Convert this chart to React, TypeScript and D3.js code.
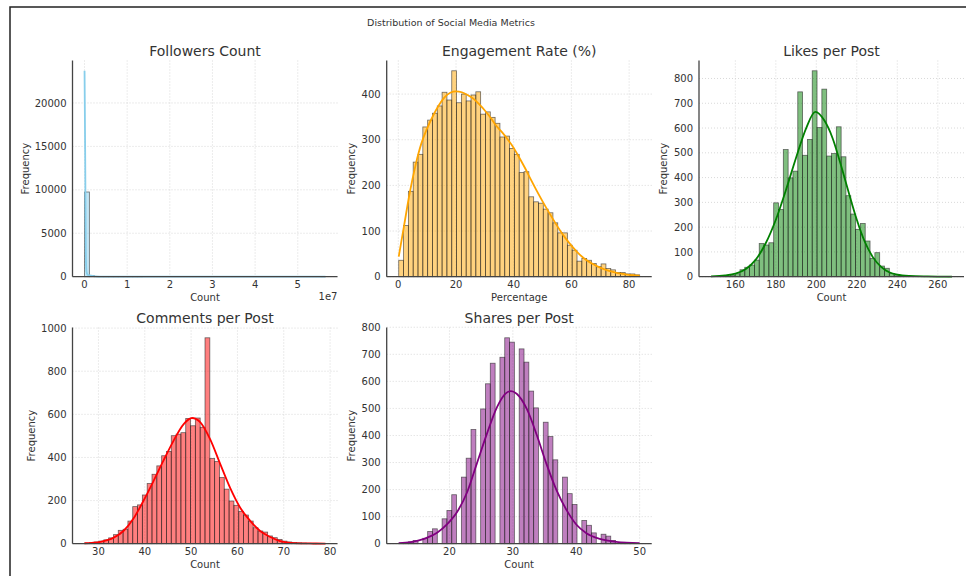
import * as d3 from "d3";

// ---- data ----
const followersRange: [number, number] = [0, 5.65e7];
const followersCounts = [
  9750, 150, 40, 15, 8, 5, 3, 2, 2, 1, 1, 1, 0, 0, 0, 0, 0, 0, 0, 0, 0, 0, 0, 0, 0,
  0, 0, 0, 0, 0, 0, 0, 0, 0, 0, 0, 0, 0, 0, 0, 0, 0, 0, 0, 0, 0, 0, 0, 0, 1,
];
const followersKde: [number, number][] = [
  [0, 23700], [1.5e5, 14000], [3e5, 3000], [4.5e5, 600], [7e5, 250], [1e6, 180],
  [1.5e6, 110], [2.5e6, 45], [4e6, 15], [8e6, 4], [1.5e7, 1], [3e7, 0.5], [5.65e7, 0],
];

const engagementRange: [number, number] = [0.15, 83.65];
const engagementCounts = [
  36, 112, 187, 251, 268, 328, 343, 358, 374, 404, 387, 451, 381, 400, 385, 398, 405,
  356, 361, 349, 336, 306, 308, 281, 268, 228, 230, 175, 164, 161, 148, 140, 118, 96,
  96, 69, 58, 34, 40, 36, 29, 22, 28, 18, 15, 9, 9, 6, 6, 4,
];
const engagementKde: [number, number][] = [
  [0.15, 44], [2, 112], [4, 185], [6, 245], [8, 292], [10, 325], [12, 352], [14, 375],
  [16, 393], [18, 403], [20, 406], [22, 404], [24, 398], [26, 390], [28, 378], [30, 364],
  [32, 348], [34, 330], [36, 316], [38, 300], [40, 282], [42, 260], [44, 237], [46, 212],
  [48, 188], [50, 165], [52, 143], [54, 122], [56, 102], [58, 84], [60, 68], [62, 54],
  [64, 42], [66, 33], [68, 26], [70, 20], [72, 15], [74, 11], [76, 8], [78, 6], [80, 4],
  [82, 3], [83.65, 2],
];

const likesRange: [number, number] = [148, 267];
const likesCounts = [
  1, 1, 2, 3, 6, 12, 28, 38, 47, 67, 134, 128, 137, 298, 271, 513, 399, 426, 746, 490,
  554, 831, 602, 757, 487, 497, 605, 484, 327, 253, 191, 215, 144, 74, 97, 43, 34, 13, 7,
  4, 2, 1, 1, 0, 0, 0, 0, 0, 0, 1,
];
const likesKde: [number, number][] = [
  [148, 1], [155, 5], [160, 12], [165, 30], [170, 68], [175, 135], [180, 230], [185, 350],
  [190, 480], [195, 600], [199.5, 665], [204, 630], [208, 560], [212, 455], [216, 340],
  [220, 230], [224, 140], [228, 78], [232, 40], [236, 18], [240, 8], [246, 3], [255, 1],
  [267, 0],
];

const commentsRange: [number, number] = [27, 79];
const commentsCounts = [
  3, 5, 8, 12, 18, 27, 42, 62, 67, 105, 172, 180, 226, 279, 322, 361, 408, 428, 501, 508,
  515, 581, 547, 583, 540, 955, 395, 381, 307, 253, 198, 178, 149, 133, 105, 74, 59, 54,
  36, 28, 20, 12, 8, 6, 4, 3, 2, 1, 1, 1,
];
const commentsKde: [number, number][] = [
  [27, 2], [30.4, 9], [33.3, 28], [35.4, 59], [37.6, 118], [39.7, 198], [41.9, 291],
  [44, 384], [46.2, 477], [48.4, 555], [50.2, 583], [52, 563], [54.1, 485], [56.3, 369],
  [58.4, 260], [60.6, 167], [62.8, 105], [64.9, 59], [67.1, 31], [69.2, 12], [72.1, 3],
  [76.4, 1], [79, 0.5],
];

const sharesRange: [number, number] = [12, 50];
const sharesCounts = [
  2, 4, 7, 12, 0, 20, 45, 55, 0, 92, 123, 181, 0, 246, 316, 422, 0, 498, 591, 667, 0,
  689, 761, 745, 0, 720, 671, 564, 502, 0, 449, 396, 310, 0, 246, 185, 145, 0, 86, 68,
  40, 0, 35, 28, 12, 0, 5, 3, 2, 1,
];
const sharesKde: [number, number][] = [
  [12, 2], [13.9, 6], [16, 18], [18.1, 41], [19.6, 71], [21.2, 117], [22.8, 191],
  [24.3, 295], [25.9, 406], [27.5, 505], [28.8, 554], [29.7, 564], [30.6, 554], [32.2, 498],
  [33.8, 400], [35.3, 295], [36.9, 197], [38.5, 123], [40, 71], [41.6, 39], [43.7, 18],
  [46.3, 7], [50, 2],
];

const followersXTicks = [0, 1e7, 2e7, 3e7, 4e7, 5e7];
const followersYTicks = [0, 5000, 10000, 15000, 20000];
const engagementXTicks = [0, 20, 40, 60, 80];
const engagementYTicks = [0, 100, 200, 300, 400];
const likesXTicks = [160, 180, 200, 220, 240, 260];
const likesYTicks = [0, 100, 200, 300, 400, 500, 600, 700, 800];
const commentsXTicks = [30, 40, 50, 60, 70, 80];
const commentsYTicks = [0, 200, 400, 600, 800, 1000];
const sharesXTicks = [20, 30, 40, 50];
const sharesYTicks = [0, 100, 200, 300, 400, 500, 600, 700, 800];

// ---- layout ----
const W = 966;
const H = 576;
const COLS = [72.5, 386.7, 699];
const ROWS = [60.5, 327.5];
const PW = 265;
const PH = 216.2;
const FONT = "DejaVu Sans, sans-serif";
const TXT = "#333";

type Panel = {
  title: string;
  xLabel: string;
  counts: number[];
  range: [number, number];
  kde: [number, number][];
  color: string;
  xTicks: number[];
  yTicks: number[];
  xFmt?: (v: number) => string;
  offset?: string;
  col: number;
  row: number;
};

const panels: Panel[] = [
  { title: "Followers Count", xLabel: "Count", counts: followersCounts, range: followersRange, kde: followersKde, color: "#87CEEB", xTicks: followersXTicks, yTicks: followersYTicks, xFmt: (v) => String(v / 1e7), offset: "1e7", col: 0, row: 0 },
  { title: "Engagement Rate (%)", xLabel: "Percentage", counts: engagementCounts, range: engagementRange, kde: engagementKde, color: "#FFA500", xTicks: engagementXTicks, yTicks: engagementYTicks, col: 1, row: 0 },
  { title: "Likes per Post", xLabel: "Count", counts: likesCounts, range: likesRange, kde: likesKde, color: "#008000", xTicks: likesXTicks, yTicks: likesYTicks, col: 2, row: 0 },
  { title: "Comments per Post", xLabel: "Count", counts: commentsCounts, range: commentsRange, kde: commentsKde, color: "#FF0000", xTicks: commentsXTicks, yTicks: commentsYTicks, col: 0, row: 1 },
  { title: "Shares per Post", xLabel: "Count", counts: sharesCounts, range: sharesRange, kde: sharesKde, color: "#800080", xTicks: sharesXTicks, yTicks: sharesYTicks, col: 1, row: 1 },
];

function Hist({ p }: { p: Panel }) {
  const left = COLS[p.col];
  const top = ROWS[p.row];
  const [lo, hi] = p.range;
  const span = hi - lo;
  const x = d3.scaleLinear().domain([lo - span * 0.05, hi + span * 0.05]).range([0, PW]);
  const yMax = Math.max(d3.max(p.counts) ?? 0, d3.max(p.kde, (d) => d[1]) ?? 0) * 1.05;
  const y = d3.scaleLinear().domain([0, yMax]).range([PH, 0]);
  const bw = span / p.counts.length;
  const line = d3
    .line<[number, number]>()
    .x((d) => x(d[0]))
    .y((d) => y(d[1]))
    .curve(d3.curveMonotoneX);
  const fmt = p.xFmt ?? ((v: number) => String(v));
  const maxLen = d3.max(p.yTicks, (t) => String(t).length) ?? 3;

  return (
    <g transform={`translate(${left},${top})`}>
      {/* grid */}
      {p.xTicks.map((t) => (
        <line key={"gx" + t} x1={x(t)} x2={x(t)} y1={0} y2={PH} stroke="#cfcfcf" strokeWidth={0.8} strokeDasharray="1,2" />
      ))}
      {p.yTicks.map((t) => (
        <line key={"gy" + t} x1={0} x2={PW} y1={y(t)} y2={y(t)} stroke="#cfcfcf" strokeWidth={0.8} strokeDasharray="1,2" />
      ))}
      {/* bars */}
      {p.counts.map((c, i) =>
        c > 0 ? (
          <rect
            key={i}
            x={x(lo + i * bw)}
            y={y(c)}
            width={x(lo + (i + 1) * bw) - x(lo + i * bw)}
            height={PH - y(c)}
            fill={p.color}
            fillOpacity={0.5}
            stroke="#222"
            strokeOpacity={0.65}
            strokeWidth={0.8}
          />
        ) : null
      )}
      {/* kde */}
      <path d={line(p.kde) ?? ""} fill="none" stroke={p.color} strokeWidth={1.8} />
      {/* spines */}
      <line x1={0} x2={0} y1={0} y2={PH} stroke="#444" strokeWidth={1.3} />
      <line x1={0} x2={PW} y1={PH} y2={PH} stroke="#444" strokeWidth={1.3} />
      {/* tick labels */}
      {p.xTicks.map((t) => (
        <text key={"tx" + t} x={x(t)} y={PH + 11} textAnchor="middle" fontSize={10} fontFamily={FONT} fill={TXT}>
          {fmt(t)}
        </text>
      ))}
      {p.yTicks.map((t) => (
        <text key={"ty" + t} x={-6} y={y(t) + 3.6} textAnchor="end" fontSize={10} fontFamily={FONT} fill={TXT}>
          {t}
        </text>
      ))}
      {p.offset && (
        <text x={PW} y={PH + 23} textAnchor="end" fontSize={10} fontFamily={FONT} fill={TXT}>
          {p.offset}
        </text>
      )}
      {/* labels */}
      <text x={PW / 2} y={PH + 24} textAnchor="middle" fontSize={10} fontFamily={FONT} fill={TXT}>
        {p.xLabel}
      </text>
      <text
        transform={`translate(${-(maxLen * 6.2 + 13)},${PH / 2}) rotate(-90)`}
        textAnchor="middle"
        fontSize={10}
        fontFamily={FONT}
        fill={TXT}
      >
        Frequency
      </text>
      <text x={PW / 2} y={-5} textAnchor="middle" fontSize={14} fontFamily={FONT} fill={TXT}>
        {p.title}
      </text>
    </g>
  );
}

export default function App() {
  return (
    <svg width={W} height={H} style={{ position: "absolute", left: 0, top: 0, background: "#fff" }}>
      <rect width={W} height={H} fill="#fff" />
      <path d={`M10,${H} V7 H${W}`} fill="none" stroke="#222" strokeWidth={1.5} />
      <text x={451} y={26} textAnchor="middle" fontSize={9.5} fontFamily={FONT} fill={TXT}>
        Distribution of Social Media Metrics
      </text>
      {panels.map((p) => (
        <Hist key={p.title} p={p} />
      ))}
    </svg>
  );
}
